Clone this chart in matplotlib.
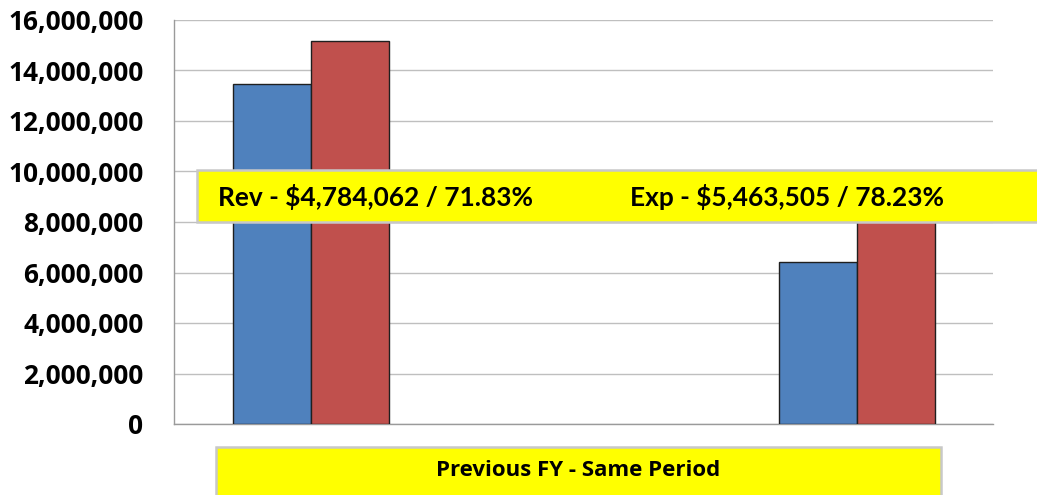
import matplotlib
matplotlib.use("Agg")
import matplotlib.pyplot as plt
from matplotlib.patches import Rectangle
from matplotlib.ticker import FuncFormatter
import numpy as np

# three category slots; the middle one is empty in the source chart
categories = ["", "", ""]
revenue = [13_470_000, np.nan, 6_420_000]
expenses = [15_170_000, np.nan, 9_300_000]

box_labels = ["Rev - $4,784,062 / 71.83%", "Exp - $5,463,505 / 78.23%"]
period_label = "Previous FY - Same Period"

BLUE = "#4F81BD"
RED = "#C0504D"
YELLOW = "#FFFF00"
W, H = 1037, 495

fig = plt.figure(figsize=(W / 100, H / 100), dpi=100)
ax = fig.add_axes([174 / W, 1 - 424 / H, (993 - 174) / W, (424 - 20) / H])

x = np.arange(len(categories))
bw = 78 / 273
ax.bar(x - bw / 2, revenue, bw, color=BLUE, edgecolor="#1f1f1f", linewidth=1.0, zorder=3)
ax.bar(x + bw / 2, expenses, bw, color=RED, edgecolor="#1f1f1f", linewidth=1.0, zorder=3)

ax.set_xlim(-0.5, 2.5)
ax.set_ylim(0, 16_000_000)
ax.set_yticks(np.arange(0, 16_000_001, 2_000_000))
ax.yaxis.set_major_formatter(FuncFormatter(lambda v, _: f"{int(v):,}"))
ax.set_xticks([])
ax.grid(axis="y", color="#bfbfbf", linewidth=1.0, zorder=0)
for s in ("top", "right"):
    ax.spines[s].set_visible(False)
for s in ("left", "bottom"):
    ax.spines[s].set_color("#9a9a9a")
    ax.spines[s].set_linewidth(1.0)
ax.tick_params(axis="y", length=0, pad=22)
for lab in ax.get_yticklabels():
    lab.set_fontfamily("Open Sans")
    lab.set_fontweight("bold")
    lab.set_fontsize(18.9)

# yellow summary box over the plot
fig.patches.append(Rectangle((197 / W, 1 - 222 / H), (1045 - 197) / W, 52 / H,
                             transform=fig.transFigure, facecolor=YELLOW,
                             edgecolor="#c8c8c8", linewidth=1.8, zorder=5))
fig.text(218 / W, 1 - 197 / H, box_labels[0], fontsize=18.9, fontweight="bold",
         family="Lato", va="center", ha="left", zorder=6)
fig.text(630 / W, 1 - 197 / H, box_labels[1], fontsize=18.9, fontweight="bold",
         family="Lato", va="center", ha="left", zorder=6)

# category label box at the bottom
fig.patches.append(Rectangle((216 / W, 1 - 505 / H), (941 - 216) / W, 58 / H,
                             transform=fig.transFigure, facecolor=YELLOW,
                             edgecolor="#c8c8c8", linewidth=1.8, zorder=5))
fig.text(578 / W, 1 - 471 / H, period_label, fontsize=16, fontweight="bold",
         family="Open Sans", va="center", ha="center", zorder=6)

fig.savefig("out.png", dpi=100)
